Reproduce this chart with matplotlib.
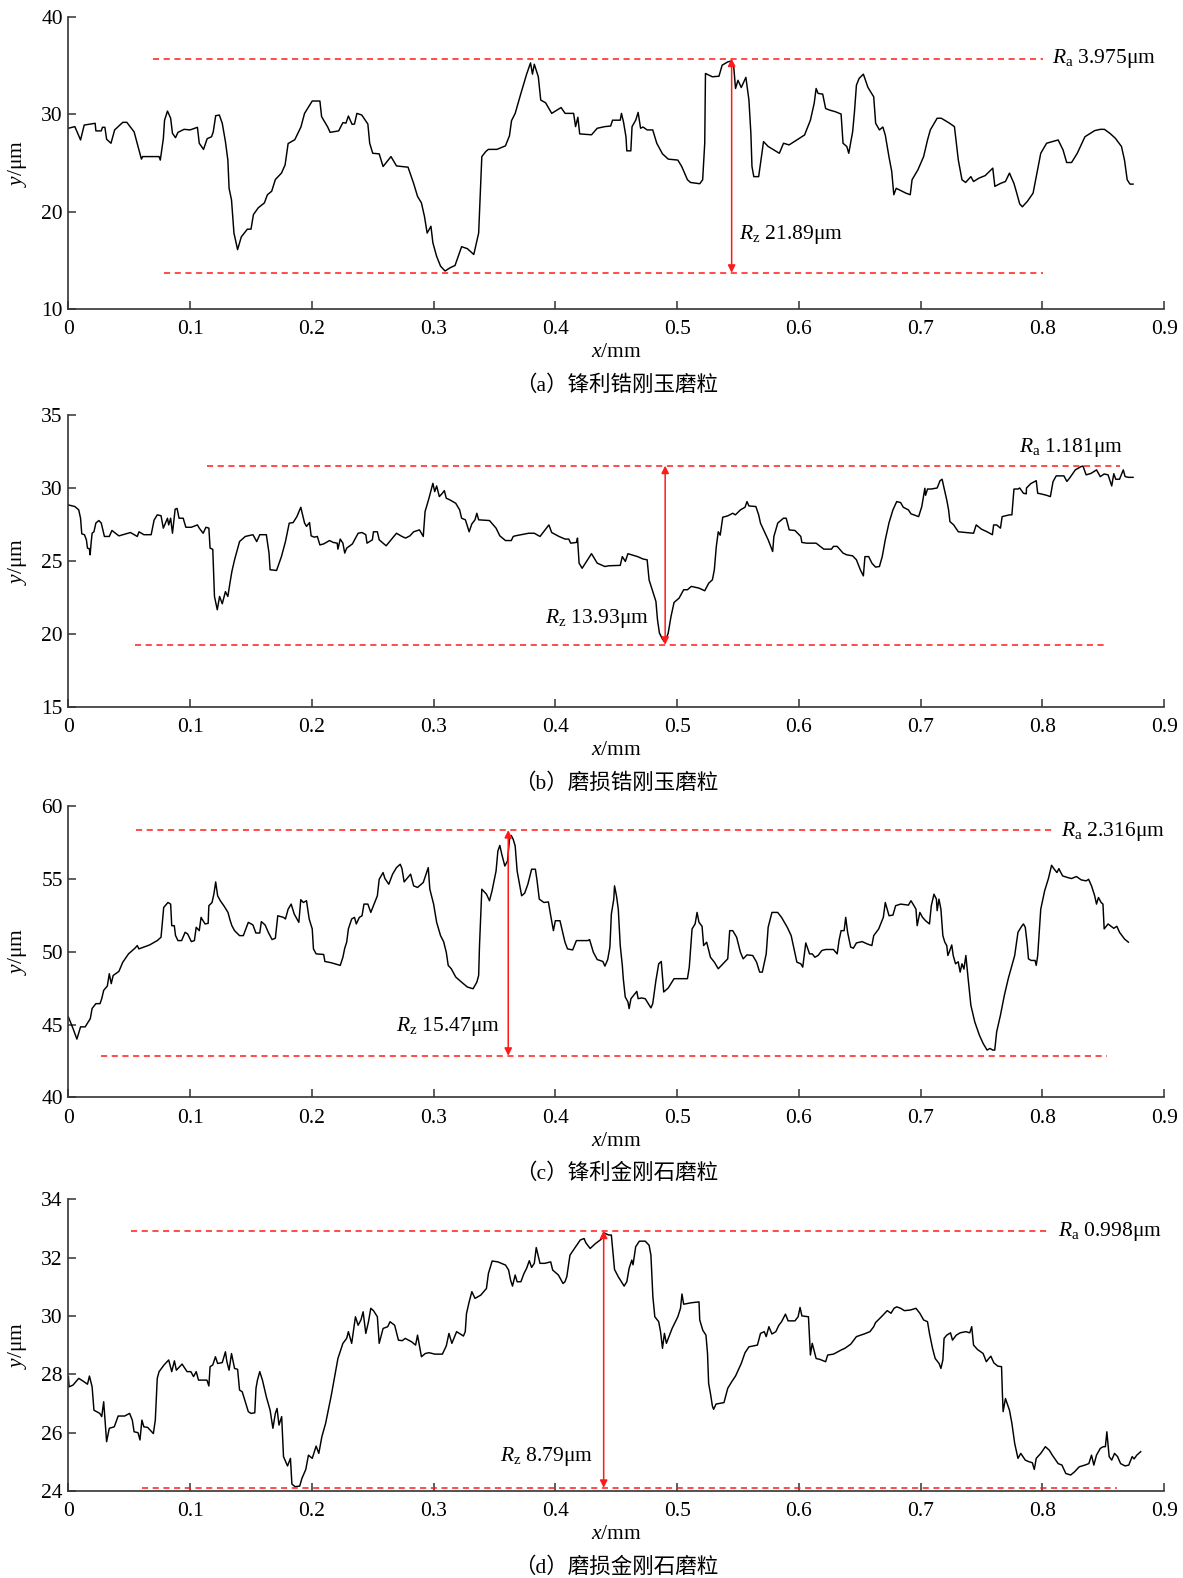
import numpy as np
import matplotlib
matplotlib.use("Agg")
import matplotlib.pyplot as plt

plt.rcParams['font.family'] = ['Liberation Serif', 'Noto Sans CJK SC', 'DejaVu Sans']
plt.rcParams['mathtext.fontset'] = 'custom'
plt.rcParams['mathtext.rm'] = 'Liberation Serif'
plt.rcParams['mathtext.it'] = 'Liberation Serif:italic'

# ---- profile (a) sharp zirconia corundum ----
xa = [0, 0.0053, 0.010, 0.013, 0.018, 0.022, 0.0226, 0.027, 0.028, 0.030, 0.0314, 0.035, 0.038, 0.0447, 0.048,
      0.054, 0.060, 0.061, 0.0745, 0.0755, 0.078, 0.079, 0.0814, 0.084, 0.0855, 0.088, 0.090, 0.095, 0.100,
      0.106, 0.1075, 0.111, 0.114, 0.1176, 0.119, 0.121, 0.124, 0.1264, 0.129, 0.131, 0.132, 0.134, 0.136,
      0.139, 0.142, 0.147, 0.150, 0.152, 0.156, 0.161, 0.1635, 0.167, 0.170, 0.175, 0.178, 0.1805, 0.186,
      0.191, 0.194, 0.2003, 0.2066, 0.208, 0.213, 0.215, 0.222, 0.2255, 0.228, 0.230, 0.233, 0.235, 0.237,
      0.241, 0.246, 0.2475, 0.250, 0.2553, 0.2585, 0.265, 0.2695, 0.279, 0.2836, 0.2868, 0.290, 0.2925,
      0.2947, 0.2978, 0.2994, 0.3025, 0.3057, 0.3094, 0.3135, 0.3176, 0.323, 0.3277, 0.333, 0.337, 0.3396,
      0.343, 0.345, 0.352, 0.359, 0.3623, 0.364, 0.367, 0.3717, 0.3764, 0.3796, 0.3812, 0.3827, 0.386,
      0.388, 0.392, 0.397, 0.4047, 0.408, 0.415, 0.4166, 0.4185, 0.420, 0.4297, 0.4344, 0.4407, 0.4454,
      0.447, 0.4533, 0.4543, 0.456, 0.458, 0.4587, 0.462, 0.463, 0.466, 0.468, 0.470, 0.472, 0.4754, 0.480,
      0.4833, 0.488, 0.4927, 0.5006, 0.5038, 0.5085, 0.511, 0.5186, 0.521, 0.5227, 0.5233, 0.529, 0.5344,
      0.537, 0.5416, 0.544, 0.5464, 0.548, 0.550, 0.5527, 0.5565, 0.559, 0.5606, 0.5615, 0.563, 0.567,
      0.5685, 0.571, 0.5748, 0.584, 0.5874, 0.592, 0.5984, 0.6047, 0.6095, 0.6126, 0.6142, 0.6158, 0.6196,
      0.622, 0.6252, 0.630, 0.6347, 0.6363, 0.6394, 0.641, 0.6442, 0.6457, 0.6473, 0.6495, 0.653, 0.6568,
      0.6615, 0.6631, 0.6662, 0.669, 0.671, 0.674, 0.6763, 0.678, 0.680, 0.688, 0.6915, 0.693, 0.6978,
      0.7025, 0.7057, 0.708, 0.7136, 0.717, 0.723, 0.7278, 0.731, 0.734, 0.737, 0.7413, 0.7435, 0.748,
      0.753, 0.7593, 0.761, 0.7656, 0.7697, 0.773, 0.7767, 0.779, 0.7814, 0.7836, 0.7877, 0.7924, 0.7956,
      0.7987, 0.8035, 0.8082, 0.813, 0.817, 0.820, 0.824, 0.8287, 0.835, 0.843, 0.8476, 0.851, 0.8555,
      0.860, 0.865, 0.8675, 0.8697, 0.872, 0.8745]
ya = [28.57, 28.74, 27.37, 28.9, 29.0, 29.08, 28.3, 28.3, 28.67, 28.67, 27.44, 27.03, 28.4, 29.18, 29.18,
      28.2, 25.4, 25.66, 25.66, 25.3, 27.5, 29.4, 30.34, 29.6, 28.05, 27.6, 28.15, 28.46, 28.4,
      28.67, 27.03, 26.4, 27.5, 27.7, 28.2, 29.86, 29.93, 29.08, 27.2, 25.3, 22.4, 21.2, 17.8,
      16.1, 17.4, 18.2, 18.2, 19.7, 20.4, 20.9, 21.74, 22.1, 23.3, 23.96, 24.8, 27.0, 27.4,
      28.7, 30.1, 31.37, 31.37, 29.76, 28.7, 28.15, 28.3, 29.15, 29.1, 29.83, 28.98, 29.0, 30.1,
      29.93, 29.0, 27.03, 26.0, 25.94, 24.64, 25.66, 24.7, 24.57, 22.9, 21.57, 20.9, 19.5,
      17.8, 18.5, 16.8, 15.4, 14.4, 13.9, 14.23, 14.47, 16.4, 16.2, 15.6, 17.8, 25.66,
      26.2, 26.4, 26.4, 26.76, 27.8, 29.35, 30.1, 32.15, 34.13, 35.29, 34.13, 35.15, 33.86,
      31.47, 31.19, 30.1, 30.7, 30.1, 30.1, 28.74, 29.7, 27.99, 27.9, 28.57, 28.74, 28.8,
      29.4, 29.4, 30.1, 29.2, 27.7, 26.25, 26.25, 28.74, 29.4, 30.2, 28.57, 28.7, 28.4, 28.4,
      27.03, 25.94, 25.4, 25.3, 24.64, 23.28, 23.0, 22.87, 23.28, 27.03, 34.2, 33.86, 33.92,
      35.05, 35.39, 35.46, 35.05, 32.66, 33.5, 32.76, 33.8, 31.47, 28.05, 24.64, 23.6, 23.6,
      24.98, 27.2, 26.7, 26.0, 27.03, 26.86, 27.37, 27.88, 29.4, 31.13, 32.66, 32.15, 32.08,
      30.6, 30.44, 30.27, 30.03, 27.03, 26.69, 26.0, 28.22, 30.27, 33.0, 33.69, 34.13, 32.76,
      31.8, 29.08, 28.4, 28.7, 27.88, 25.66, 24.13, 21.74, 22.4, 21.9, 21.74, 23.28, 24.3,
      25.66, 27.37, 28.4, 29.6, 29.6, 29.15, 28.74, 25.3, 23.28, 23.0, 23.6, 23.1, 23.45,
      23.7, 24.47, 22.6, 22.9, 23.1, 23.96, 22.9, 21.9, 20.8, 20.5, 21.06, 21.9, 23.96,
      26.0, 27.03, 27.2, 27.37, 26.35, 25.05, 25.05, 26.0, 27.7, 28.33, 28.46, 28.46, 28.05,
      27.54, 26.7, 25.3, 23.28, 22.83, 22.83]

# ---- profile (b) worn zirconia corundum ----
xb = [0, 0.0053, 0.0085, 0.010, 0.011, 0.0132, 0.0148, 0.0157, 0.0172, 0.0179, 0.0186, 0.0195, 0.021,
      0.0226, 0.025, 0.027, 0.0296, 0.0336, 0.0358, 0.0415, 0.051, 0.0566, 0.058, 0.062, 0.068, 0.0704,
      0.073, 0.0761, 0.078, 0.0814, 0.0824, 0.084, 0.0855, 0.0877, 0.0893, 0.0909, 0.0943, 0.0965, 0.101,
      0.106, 0.1075, 0.1107, 0.113, 0.1154, 0.1164, 0.1186, 0.120, 0.1223, 0.1242, 0.1264, 0.129, 0.131,
      0.1327, 0.1343, 0.1365, 0.1406, 0.1453, 0.1516, 0.1547, 0.1572, 0.1626, 0.1648, 0.1657, 0.171,
      0.175, 0.1783, 0.1814, 0.1846, 0.1877, 0.1909, 0.194, 0.1956, 0.1981, 0.1994, 0.202, 0.2045, 0.2066,
      0.2097, 0.2145, 0.2176, 0.2208, 0.2214, 0.2233, 0.2255, 0.227, 0.2286, 0.2333, 0.238, 0.2412,
      0.2443, 0.2453, 0.2497, 0.2506, 0.2538, 0.2553, 0.261, 0.2695, 0.274, 0.277, 0.2805, 0.2836,
      0.2884, 0.2915, 0.293, 0.2962, 0.2994, 0.3009, 0.3025, 0.3047, 0.3072, 0.3088, 0.3104, 0.3135,
      0.3182, 0.3214, 0.323, 0.3261, 0.3292, 0.3314, 0.334, 0.3355, 0.337, 0.3459, 0.3513, 0.3544, 0.359,
      0.3638, 0.3654, 0.367, 0.378, 0.3827, 0.3874, 0.3912, 0.3947, 0.397, 0.403, 0.408, 0.411, 0.4126,
      0.4173, 0.4182, 0.4195, 0.422, 0.4297, 0.4344, 0.4407, 0.4438, 0.4533, 0.455, 0.4575, 0.4596,
      0.4675, 0.4722, 0.4754, 0.477, 0.480, 0.4826, 0.4839, 0.4855, 0.488, 0.490, 0.4927, 0.495, 0.4975,
      0.5016, 0.5054, 0.5085, 0.5117, 0.518, 0.5227, 0.526, 0.529, 0.5306, 0.5322, 0.5338, 0.5354,
      0.5375, 0.5416, 0.5457, 0.5479, 0.552, 0.5558, 0.5574, 0.559, 0.5647, 0.567, 0.5685, 0.5748,
      0.5785, 0.5795, 0.5827, 0.5874, 0.5896, 0.5921, 0.5968, 0.6016, 0.6025, 0.6063, 0.6142, 0.6205,
      0.6268, 0.6284, 0.6315, 0.6363, 0.6394, 0.6442, 0.6473, 0.6505, 0.653, 0.6543, 0.6574, 0.660,
      0.663, 0.6662, 0.6685, 0.671, 0.6741, 0.6773, 0.6804, 0.6836, 0.6858, 0.690, 0.6921, 0.6984,
      0.701, 0.7035, 0.7041, 0.7057, 0.7088, 0.7136, 0.716, 0.7177, 0.719, 0.7215, 0.723, 0.7241,
      0.7272, 0.731, 0.7372, 0.7435, 0.7457, 0.750, 0.7546, 0.759, 0.760, 0.7625, 0.7656, 0.767, 0.773,
      0.775, 0.7767, 0.780, 0.7814, 0.7845, 0.7868, 0.787, 0.7905, 0.795, 0.7962, 0.7987, 0.8035, 0.8066,
      0.8088, 0.8114, 0.8177, 0.8202, 0.8224, 0.8271, 0.8318, 0.8334, 0.836, 0.840, 0.8445, 0.8476,
      0.8508, 0.854, 0.857, 0.8587, 0.8603, 0.8634, 0.8665, 0.868, 0.8707, 0.8745]
yb = [28.84, 28.73, 28.5, 27.93, 26.86, 26.8, 26.45, 25.88, 25.84, 25.42, 26.17, 26.9, 27.0,
      27.6, 27.77, 27.6, 26.68, 26.68, 27.09, 26.72, 26.95, 26.68, 27.0, 26.8, 26.8, 27.8,
      28.16, 28.1, 27.25, 27.93, 27.47, 27.93, 26.9, 28.55, 28.6, 27.93, 27.93, 27.31, 27.31,
      27.47, 27.25, 26.9, 27.31, 27.25, 25.88, 25.8, 22.57, 21.66, 22.57, 22.07, 22.9, 22.57,
      23.48, 24.28, 25.08, 26.33, 26.68, 26.8, 26.33, 26.8, 26.8, 25.54, 24.4, 24.35,
      25.3, 26.33, 27.59, 27.63, 28.04, 28.68, 27.6, 27.37, 27.63, 26.72, 26.63, 26.68, 26.1,
      26.17, 26.4, 26.27, 26.22, 25.81, 26.5, 26.22, 25.54, 25.88, 26.17, 26.9, 26.95,
      26.8, 26.22, 26.45, 27.0, 27.0, 26.45, 26.04, 26.9, 26.68, 26.57, 26.72, 27.0,
      27.13, 26.68, 28.39, 29.3, 30.32, 29.75, 30.14, 29.41, 29.64, 29.82, 29.3, 29.18,
      28.95, 28.5, 27.93, 27.82, 27.0, 27.54, 27.82, 28.27, 27.82, 27.77, 27.25, 26.72, 26.4,
      26.4, 26.68, 26.72, 26.9, 26.9, 26.68, 27.09, 27.47, 26.95, 26.68, 26.5, 26.5, 26.22,
      26.27, 26.57, 24.85, 24.5, 25.5, 24.85, 24.62, 24.67, 24.7, 25.3, 24.97, 25.5,
      25.3, 25.13, 25.08, 23.7, 22.9, 22.23, 20.97, 20.06, 19.65, 19.42, 20.06, 21.2, 22.16,
      22.45, 23.03, 23.03, 23.26, 23.14, 22.96, 23.48, 23.71, 24.4, 25.99, 27.0, 26.77,
      28.0, 28.09, 28.27, 28.16, 28.5, 28.68, 29.07, 28.77, 28.73, 28.16, 27.59, 26.45,
      25.65, 26.68, 27.6, 27.93, 27.93, 27.13, 27.09, 26.68, 26.27, 26.22, 26.22, 25.81,
      25.81, 26.0, 26.0, 25.54, 25.42, 25.35, 25.08, 24.4, 23.98, 25.3, 25.3, 24.85,
      24.58, 24.62, 25.3, 26.45, 27.63, 28.5, 29.07, 29.0, 28.68, 28.5, 28.23, 28.04,
      28.73, 29.98, 29.5, 29.93, 29.93, 30.0, 30.5, 30.6, 30.1, 29.18, 28.5, 27.7,
      27.47, 27.0, 26.95, 26.9, 27.47, 27.18, 27.0, 26.8, 27.47, 27.47, 27.25, 28.04, 28.16,
      28.16, 29.93, 29.93, 30.0, 29.64, 29.6, 30.0, 30.3, 30.5, 29.64, 29.6, 29.5, 29.41,
      30.44, 30.83, 30.83, 30.45, 30.68, 31.24, 31.47, 31.5, 30.9, 31.0, 31.24, 30.78,
      30.96, 30.9, 30.14, 30.98, 30.6, 30.6, 31.24, 30.78, 30.73, 30.73]

# ---- profile (c) sharp diamond ----
xc = [0, 0.0038, 0.007, 0.010, 0.0138, 0.018, 0.0195, 0.0226, 0.026, 0.0274, 0.029, 0.032, 0.0336,
      0.0352, 0.0368, 0.0415, 0.0447, 0.0494, 0.0547, 0.0566, 0.0579, 0.0667, 0.073, 0.0761, 0.0783,
      0.0818, 0.084, 0.0849, 0.087, 0.088, 0.090, 0.093, 0.0959, 0.098, 0.101, 0.1035, 0.105, 0.1075,
      0.109, 0.1107, 0.1123, 0.1148, 0.1154, 0.118, 0.1195, 0.121, 0.1226, 0.1248, 0.128, 0.1311,
      0.1327, 0.1343, 0.1365, 0.1406, 0.1437, 0.1478, 0.1516, 0.154, 0.1572, 0.1585, 0.1616, 0.1642,
      0.1673, 0.170, 0.172, 0.1767, 0.1783, 0.1805, 0.183, 0.1855, 0.1893, 0.1909, 0.193, 0.1956,
      0.1978, 0.2003, 0.2013, 0.2035, 0.2097, 0.2107, 0.216, 0.2233, 0.2255, 0.227, 0.2286, 0.230,
      0.2327, 0.235, 0.2365, 0.239, 0.2412, 0.2428, 0.246, 0.2484, 0.2538, 0.2553, 0.2585, 0.260,
      0.2632, 0.2663, 0.2695, 0.2726, 0.274, 0.2758, 0.2811, 0.2836, 0.2868, 0.2915, 0.2956, 0.2969,
      0.300, 0.3025, 0.3057, 0.3082, 0.3104, 0.312, 0.3145, 0.3182, 0.323, 0.3277, 0.3324, 0.3355,
      0.337, 0.3377, 0.3396, 0.3434, 0.3459, 0.348, 0.3513, 0.3528, 0.3544, 0.356, 0.3585, 0.3607,
      0.3623, 0.3638, 0.3654, 0.367, 0.3686, 0.371, 0.3723, 0.3748, 0.3774, 0.3805, 0.3836, 0.385,
      0.3868, 0.3906, 0.3943, 0.3962, 0.3984, 0.400, 0.4038, 0.4057, 0.4079, 0.410, 0.4142, 0.4173,
      0.4267, 0.4281, 0.4312, 0.4344, 0.439, 0.4407, 0.443, 0.4448, 0.446, 0.448, 0.4486, 0.4502,
      0.4517, 0.4533, 0.455, 0.4558, 0.4574, 0.4596, 0.4606, 0.4621, 0.4669, 0.468, 0.4707, 0.4738,
      0.4785, 0.480, 0.4826, 0.4849, 0.487, 0.489, 0.4927, 0.4975, 0.5085, 0.510, 0.5123, 0.5148,
      0.5164, 0.518, 0.5205, 0.5218, 0.5243, 0.5274, 0.5306, 0.5338, 0.5385, 0.5416, 0.5432, 0.5457,
      0.5489, 0.552, 0.5543, 0.5574, 0.5621, 0.5653, 0.5678, 0.570, 0.5732, 0.5748, 0.5779, 0.5826,
      0.5858, 0.5905, 0.5937, 0.5952, 0.5984, 0.6016, 0.6032, 0.6057, 0.6088, 0.611, 0.6132, 0.6158,
      0.6189, 0.622, 0.6284, 0.6315, 0.633, 0.6347, 0.6372, 0.6385, 0.6401, 0.6426, 0.6448, 0.6473,
      0.652, 0.6562, 0.660, 0.6615, 0.6656, 0.6694, 0.671, 0.6726, 0.6741, 0.6773, 0.6795, 0.6836,
      0.690, 0.6921, 0.6946, 0.6962, 0.6972, 0.6994, 0.7016, 0.7041, 0.7073, 0.7088, 0.711, 0.713,
      0.7136, 0.7151, 0.7167, 0.7183, 0.7199, 0.7215, 0.7224, 0.7237, 0.7256, 0.7268, 0.7287, 0.7309,
      0.7325, 0.734, 0.7356, 0.7372, 0.7388, 0.7413, 0.7445, 0.7483, 0.7514, 0.7546, 0.757, 0.7593,
      0.7609, 0.7625, 0.7656, 0.7688, 0.772, 0.775, 0.7773, 0.780, 0.783, 0.7845, 0.786, 0.7877,
      0.7886, 0.7908, 0.794, 0.795, 0.7962, 0.7987, 0.8019, 0.805, 0.8076, 0.8098, 0.812, 0.8136,
      0.8145, 0.8167, 0.8208, 0.824, 0.828, 0.8319, 0.836, 0.838, 0.8404, 0.843, 0.8445, 0.8461,
      0.8483, 0.8498, 0.8508, 0.854, 0.8587, 0.8612, 0.8634, 0.8675, 0.8707]
yc = [45.52, 44.73, 44.0, 44.84, 44.84, 45.4, 46.1, 46.43, 46.43, 46.77, 47.34, 47.64, 48.48,
      47.8, 48.36, 48.64, 49.27, 49.84, 50.23, 50.41, 50.18, 50.45, 50.75, 50.98, 53.02,
      53.36, 53.25, 51.77, 51.77, 51.1, 50.75, 50.75, 51.32, 51.2, 50.68, 50.75, 51.66, 51.43,
      52.34, 52.1, 51.89, 51.93, 53.14, 53.36, 53.93, 54.77, 53.82, 53.48, 53.1, 52.68,
      52.18, 51.77, 51.43, 51.09, 51.09, 52.0, 51.82, 51.27, 51.27, 52.05, 51.82, 51.32,
      50.82, 50.91, 52.45, 52.34, 52.23, 52.9, 53.25, 52.57, 52.0, 53.55, 53.36, 53.48,
      52.23, 51.55, 50.18, 49.84, 49.8, 49.32, 49.23, 49.05, 49.61, 50.23, 50.64, 51.55,
      52.23, 52.34, 51.89, 52.34, 52.45, 53.25, 53.25, 52.68, 53.82, 54.95, 55.41, 55.0,
      54.61, 55.3, 55.75, 55.98, 55.68, 54.77, 55.3, 54.5, 54.39, 54.73, 55.75, 54.27,
      53.25, 52.0, 51.09, 50.68, 49.95, 49.05, 48.82, 48.25, 47.9, 47.57, 47.45, 47.9,
      48.36, 50.41, 54.27, 53.93, 53.48, 54.16, 55.52, 56.89, 57.27, 56.66, 55.86, 56.2,
      57.68, 57.95, 57.68, 57.23, 55.52, 54.39, 53.82, 54.0, 54.61, 55.64, 55.64, 54.84,
      53.59, 53.36, 53.4, 52.45, 51.43, 52.11, 52.11, 51.43, 50.64, 50.18, 50.11, 50.75,
      50.75, 50.82, 49.95, 49.45, 49.32, 49.0, 49.45, 50.3, 52.57, 53.59, 54.5, 53.82,
      52.9, 50.41, 49.05, 48.14, 46.89, 46.55, 46.09, 46.77, 47.27, 46.77, 46.82, 46.77,
      46.14, 46.43, 48.02, 49.16, 49.32, 47.23, 47.5, 48.14, 48.14, 48.93, 51.55, 51.89,
      52.68, 52.0, 51.73, 50.41, 50.64, 49.61, 49.27, 48.82, 49.23, 49.5, 51.43, 51.43,
      50.98, 49.95, 49.5, 49.77, 49.73, 49.27, 48.59, 48.59, 49.84, 51.66, 52.68, 52.68,
      52.34, 51.66, 51.09, 50.52, 49.27, 49.16, 48.93, 50.59, 49.84, 49.84, 49.61, 49.73,
      50.07, 50.14, 50.14, 49.84, 50.75, 51.43, 51.43, 52.34, 51.3, 50.3, 50.23, 50.59,
      50.68, 50.52, 50.41, 51.09, 51.55, 52.34, 53.36, 52.9, 52.45, 52.5, 53.14, 53.25,
      53.18, 53.48, 53.14, 52.9, 51.77, 52.68, 52.34, 52.11, 51.89, 53.14, 53.93, 53.59,
      52.8, 53.59, 52.9, 51.09, 50.64, 50.41, 49.73, 50.0, 50.45, 49.73, 49.16, 49.3,
      48.59, 49.16, 48.8, 49.73, 48.36, 46.32, 45.18, 44.27, 43.7, 43.25, 43.36, 43.25,
      43.25, 44.5, 45.64, 47.0, 48.14, 49.05, 49.73, 51.32, 51.73, 51.89, 51.66, 50.41,
      49.5, 49.39, 49.39, 49.05, 49.73, 52.9, 54.16, 55.0, 55.91, 55.64, 55.41, 55.68,
      55.52, 55.18, 55.07, 55.0, 55.14, 54.91, 54.84, 54.95, 54.5, 53.82, 53.25, 53.7,
      53.36, 53.25, 51.55, 51.89, 51.59, 51.73, 51.32, 50.86, 50.64]

# ---- profile (d) worn diamond ----
xd = [0, 0.0006, 0.0038, 0.0085, 0.0116, 0.0157, 0.0173, 0.0195, 0.021, 0.0258, 0.0274, 0.029, 0.0314,
      0.0336, 0.0377, 0.0409, 0.0462, 0.0503, 0.0525, 0.054, 0.0572, 0.0588, 0.0604, 0.062, 0.0651,
      0.0698, 0.0714, 0.073, 0.0745, 0.0786, 0.0824, 0.0849, 0.0871, 0.0887, 0.0934, 0.0975, 0.1006,
      0.1028, 0.105, 0.1069, 0.110, 0.1138, 0.1154, 0.1164, 0.1186, 0.1208, 0.1226, 0.1264, 0.129,
      0.1302, 0.132, 0.134, 0.1365, 0.139, 0.1406, 0.1428, 0.1453, 0.1478, 0.150, 0.1531, 0.1541,
      0.1553, 0.1572, 0.1594, 0.1626, 0.1657, 0.168, 0.170, 0.1714, 0.173, 0.1752, 0.1767, 0.180,
      0.1824, 0.1836, 0.1862, 0.190, 0.1918, 0.195, 0.1972, 0.2003, 0.2035, 0.2057, 0.2082, 0.2113,
      0.216, 0.2214, 0.2255, 0.2286, 0.230, 0.2327, 0.2358, 0.238, 0.2403, 0.2421, 0.2443, 0.2465,
      0.2484, 0.2506, 0.2538, 0.2553, 0.2585, 0.2623, 0.2642, 0.268, 0.2711, 0.2742, 0.2767, 0.282,
      0.2852, 0.2868, 0.290, 0.2931, 0.2962, 0.301, 0.3072, 0.3104, 0.3126, 0.315, 0.3189, 0.3245,
      0.326, 0.327, 0.3292, 0.3314, 0.334, 0.3387, 0.3434, 0.345, 0.3481, 0.3528, 0.3591, 0.3616,
      0.3632, 0.3648, 0.367, 0.3686, 0.3717, 0.3742, 0.3764, 0.3786, 0.3805, 0.3827, 0.3843, 0.3874,
      0.3912, 0.3962, 0.3978, 0.4025, 0.4063, 0.4079, 0.4094, 0.4104, 0.412, 0.4157, 0.4205, 0.4236,
      0.4251, 0.4286, 0.433, 0.4375, 0.4397, 0.4438, 0.446, 0.4486, 0.4517, 0.4565, 0.4587, 0.4606,
      0.4628, 0.4638, 0.466, 0.469, 0.4738, 0.477, 0.4785, 0.4801, 0.4817, 0.4849, 0.4864, 0.488,
      0.4896, 0.4912, 0.4959, 0.5006, 0.5028, 0.504, 0.5054, 0.5117, 0.518, 0.5186, 0.5211, 0.5237,
      0.525, 0.5259, 0.5274, 0.529, 0.530, 0.532, 0.5385, 0.5416, 0.5448, 0.548, 0.5527, 0.5558,
      0.559, 0.566, 0.5685, 0.5716, 0.5732, 0.5754, 0.5779, 0.5811, 0.5836, 0.5858, 0.589, 0.5912,
      0.5968, 0.5994, 0.601, 0.6025, 0.6079, 0.6095, 0.611, 0.6142, 0.6173, 0.622, 0.6237, 0.6284,
      0.6347, 0.6378, 0.6426, 0.6473, 0.6536, 0.6584, 0.6615, 0.663, 0.6678, 0.6726, 0.6757, 0.6782,
      0.6804, 0.6836, 0.6867, 0.6915, 0.6962, 0.6994, 0.7025, 0.7057, 0.7073, 0.7098, 0.712, 0.7152,
      0.7167, 0.7183, 0.7193, 0.7215, 0.7246, 0.7262, 0.7293, 0.7325, 0.7372, 0.7404, 0.742, 0.7435,
      0.7467, 0.7514, 0.754, 0.756, 0.7577, 0.7602, 0.7634, 0.7665, 0.7672, 0.7678, 0.7697, 0.773,
      0.775, 0.7773, 0.780, 0.7823, 0.786, 0.7893, 0.7918, 0.7934, 0.795, 0.7987, 0.8025, 0.8057,
      0.8082, 0.813, 0.8161, 0.8193, 0.8233, 0.8265, 0.8303, 0.835, 0.8382, 0.8404, 0.8423, 0.8445,
      0.8476, 0.850, 0.8518, 0.853, 0.8549, 0.857, 0.8593, 0.8618, 0.8643, 0.868, 0.871, 0.8738,
      0.8754, 0.8776, 0.8808]
yd = [27.92, 27.57, 27.63, 27.86, 27.78, 27.66, 27.94, 27.57, 26.77, 26.66, 26.55, 27.06, 25.69,
      26.15, 26.2, 26.57, 26.57, 26.66, 26.43, 26.03, 26.0, 25.75, 26.43, 26.2, 26.18,
      25.97, 26.43, 27.86, 28.09, 28.32, 28.49, 28.09, 28.46, 28.14, 28.35, 28.09, 28.09,
      27.92, 28.09, 27.8, 27.8, 27.8, 27.6, 28.26, 28.32, 28.6, 28.37, 28.4, 28.77,
      28.43, 28.14, 28.71, 28.2, 28.17, 27.46, 27.4, 27.06, 26.72, 26.66, 26.68, 27.52,
      27.8, 28.09, 27.8, 27.23, 26.77, 26.15, 26.66, 26.83, 26.26, 26.55, 25.18, 24.86,
      25.12, 24.24, 24.15, 24.17, 24.43, 24.74, 25.23, 25.12, 25.54, 25.29, 25.86, 26.32,
      27.29, 28.54, 29.06, 29.23, 29.46, 29.06, 29.97, 29.68, 29.86, 30.14, 29.4, 29.8,
      30.26, 30.18, 29.97, 29.06, 29.57, 29.63, 29.8, 29.68, 29.17, 29.15, 29.23, 29.11,
      29.0, 29.34, 28.6, 28.71, 28.74, 28.69, 28.69, 28.97, 29.4, 29.06, 29.46, 29.31,
      29.46, 30.08, 30.48, 30.83, 30.6, 30.71, 30.94, 31.45, 31.88, 31.85, 31.74, 31.57,
      31.23, 31.02, 31.4, 31.17, 31.17, 31.45, 31.63, 31.89, 31.66, 31.8, 32.34, 31.8,
      31.8, 31.85, 31.57, 31.4, 31.11, 31.17, 31.34, 31.63, 32.08, 32.31, 32.6, 32.65,
      32.5, 32.31, 32.48, 32.62, 32.85, 32.77, 32.77, 31.59, 31.34, 31.02, 31.17, 31.63,
      31.91, 31.75, 32.37, 32.56, 32.56, 32.42, 32.08, 30.66, 29.97, 29.8, 29.46, 28.89,
      29.4, 29.06, 29.57, 29.97, 30.26, 30.75, 30.4, 30.45, 30.48, 29.86, 29.51, 29.34,
      28.71, 27.69, 27.34, 26.91, 26.8, 26.98, 27.03, 27.52, 27.74, 27.94, 28.37, 28.74,
      28.94, 29.0, 29.4, 29.46, 29.29, 29.63, 29.38, 29.46, 29.68, 29.8, 30.06, 29.83,
      29.83, 29.97, 30.29, 30.0, 29.97, 28.66, 29.06, 28.54, 28.51, 28.43, 28.66, 28.69,
      28.83, 28.89, 29.03, 29.29, 29.38, 29.46, 29.63, 29.77, 29.97, 30.18, 30.09, 30.26,
      30.31, 30.26, 30.18, 30.2, 30.26, 30.09, 29.86, 29.8, 29.4, 28.89, 28.54, 28.37,
      28.2, 28.49, 29.23, 29.34, 29.42, 29.17, 29.34, 29.42, 29.46, 29.42, 29.63, 29.0,
      28.85, 28.71, 28.43, 28.54, 28.62, 28.39, 28.28, 28.26, 27.34, 26.72, 27.17, 26.77,
      26.32, 25.63, 25.12, 25.29, 25.06, 25.0, 24.97, 24.74, 25.12, 25.29, 25.52, 25.4,
      25.23, 24.94, 24.89, 24.6, 24.55, 24.66, 24.83, 24.89, 24.94, 25.23, 24.89, 25.23,
      25.46, 25.52, 25.52, 26.03, 25.18, 25.06, 25.29, 25.18, 24.94, 24.86, 24.89, 25.18,
      25.1, 25.23, 25.35]

# y limits / ticks of each panel
ylims = [(10, 40), (15, 35), (40, 60), (24, 34)]
ytick_sets = [[10, 20, 30, 40], [15, 20, 25, 30, 35], [40, 45, 50, 55, 60], [24, 26, 28, 30, 32, 34]]
xticks = [0, 0.1, 0.2, 0.3, 0.4, 0.5, 0.6, 0.7, 0.8, 0.9]
xtick_labels = ['0', '0.1', '0.2', '0.3', '0.4', '0.5', '0.6', '0.7', '0.8', '0.9']

# Ra / Rz annotations
ra_values = ['3.975', '1.181', '2.316', '0.998']
rz_values = ['21.89', '13.93', '15.47', '8.79']
upper_lines = [(35.73, 0.0698, 0.8003), (31.53, 0.1138, 0.8634), (58.32, 0.0557, 0.8098), (32.92, 0.0516, 0.805)]
lower_lines = [(13.72, 0.0783, 0.8003), (19.26, 0.0547, 0.853), (42.86, 0.0264, 0.853), (24.11, 0.0604, 0.8612)]
arrow_x = [0.5448, 0.4902, 0.3613, 0.4397]
ra_pos = [(0.808, 35.73), (0.781, 32.75), (0.8157, 58.2), (0.813, 32.9)]
rz_pos = [(0.551, 17.66, 'left'), (0.477, 21.07, 'right'), (0.3545, 44.85, 'right'), (0.431, 25.2, 'right')]
captions = ['（a）锋利锆刚玉磨粒', '（b）磨损锆刚玉磨粒', '（c）锋利金刚石磨粒', '（d）磨损金刚石磨粒']

profiles = [(xa, ya), (xb, yb), (xc, yc), (xd, yd)]
ax_bottoms = [0.8042, 0.5520, 0.3045, 0.0551]
ax_height = 0.1850

fig = plt.figure(figsize=(11.83, 15.78), dpi=100)
red = '#ff1a1a'
fs = 15.5
for i in range(4):
    ax = fig.add_axes([0.0578, ax_bottoms[i], 0.9262, ax_height])
    px, py = profiles[i]
    ax.plot(px, py, color='black', lw=1.05)

    yv, x0, x1 = upper_lines[i]
    ax.plot([x0, x1], [yv, yv], color=red, lw=1.1, dashes=(4, 3))
    yl, l0, l1 = lower_lines[i]
    ax.plot([l0, l1], [yl, yl], color=red, lw=1.1, dashes=(4, 3))
    ax.annotate('', xy=(arrow_x[i], yv), xytext=(arrow_x[i], yl),
                arrowprops=dict(arrowstyle='<|-|>', color=red, lw=1.1,
                                mutation_scale=11, shrinkA=0, shrinkB=0))

    rx, ry = ra_pos[i]
    ax.text(rx, ry, r'$R_\mathrm{a}$ ' + ra_values[i] + 'μm', fontsize=fs, va='center', ha='left')
    zx, zy, zha = rz_pos[i]
    ax.text(zx, zy, r'$R_\mathrm{z}$ ' + rz_values[i] + 'μm', fontsize=fs, va='center', ha=zha)

    ax.set_xlim(0, 0.9)
    ax.set_ylim(*ylims[i])
    ax.set_xticks(xticks)
    ax.set_xticklabels(xtick_labels)
    ax.set_yticks(ytick_sets[i])
    ax.spines['top'].set_visible(False)
    ax.spines['right'].set_visible(False)
    for s in ('left', 'bottom'):
        ax.spines[s].set_linewidth(1.2)
        ax.spines[s].set_color('#333333')
    ax.tick_params(direction='in', length=6, width=1.1, color='#333333', labelsize=fs)
    ax.tick_params(axis='x', pad=8)
    ax.tick_params(axis='y', pad=4)
    ax.set_xlabel('$x$/mm', fontsize=fs, labelpad=3)
    ax.set_ylabel('$y$/μm', fontsize=fs)
    ax.yaxis.set_label_coords(-0.036, 0.5)
    ax.text(0.5, -0.262, captions[i], transform=ax.transAxes, fontsize=fs,
            ha='center', va='center', family=['Liberation Serif', 'Noto Sans CJK SC'])

fig.savefig('out.png', dpi=100)
